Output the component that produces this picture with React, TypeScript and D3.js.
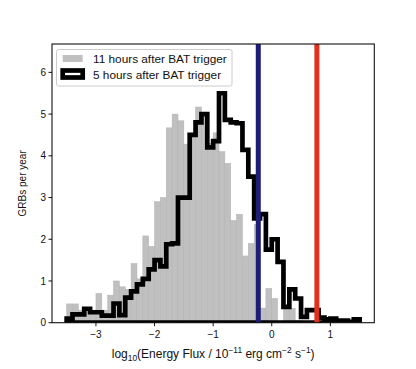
import React from "react";
import * as d3 from "d3";

const binStart = -3.5;
const binWidth = 0.1;

// GRBs per year, 11 hours after BAT trigger (bins of 0.1 from -3.5)
const gray11h = [
  0.45, 0.45, 0.3, 0.25, 0.3, 0.7, 0.3, 0.66, 1.0, 0.86,
  0.8, 1.42, 1.05, 2.08, 1.83, 2.9, 3.0, 4.67, 5.0, 4.84,
  4.28, 4.5, 5.17, 5.03, 4.3, 4.55, 4.1, 3.82, 2.45, 2.6,
  1.6, 1.9, 2.35, 0.35, 0.82, 0.58, 0, 0.34, 0.34, 0.05,
  0, 0, 0, 0, 0, 0, 0, 0, 0, 0,
];

// GRBs per year, 5 hours after BAT trigger
const black5h = [
  0.1, 0.2, 0.2, 0.33, 0.25, 0.25, 0.17, 0.17, 0.46, 0.18,
  0.6, 0.75, 0.92, 1.05, 1.28, 1.5, 1.35, 1.88, 1.9, 3.0,
  3.0, 4.5, 4.8, 5.0, 4.2, 4.35, 5.5, 4.86, 4.8, 4.78,
  4.14, 3.5, 2.5, 2.6, 1.75, 2.0, 1.46, 0.38, 0.8, 0.58,
  0.14, 0.3, 0.3, 0.12, 0.08, 0.1, 0.05, 0.05, 0.02, 0.08,
];

const blueLine = -0.23;
const redLine = 0.77;

const xTicks = [-3, -2, -1, 0, 1];
const yTicks = [0, 1, 2, 3, 4, 5, 6];
const legendLabels = ["11 hours after BAT trigger", "5 hours after BAT trigger"];

const W = 416;
const H = 369;
const L = 52, R = 374.3, T = 44, B = 322.7;
const FONT = "'Liberation Sans', Arial, Helvetica, sans-serif";

export default function App() {
  const x = d3.scaleLinear().domain([-3.75, 1.75]).range([L, R]);
  const y = d3.scaleLinear().domain([0, 6.68]).range([B, T]);
  const fmt = (v: number) => (v < 0 ? "\u2212" + Math.abs(v) : String(v));

  const n = black5h.length;
  const pts: [number, number][] = [];
  pts.push([x(binStart), y(0)]);
  black5h.forEach((v, i) => {
    const x0 = binStart + i * binWidth;
    pts.push([x(x0), y(v)]);
    pts.push([x(x0 + binWidth), y(v)]);
  });
  pts.push([x(binStart + n * binWidth), y(0)]);
  const stepPath = d3.line()(pts) + "Z";

  return (
    <svg
      width={W}
      height={H}
      style={{ position: "absolute", left: 0, top: 0, background: "#fff" }}
      fontFamily={FONT}
    >
      <defs>
        <clipPath id="plot">
          <rect x={L} y={T} width={R - L} height={B - T} />
        </clipPath>
      </defs>
      <g clipPath="url(#plot)">
        {gray11h.map((v, i) =>
          v > 0 ? (
            <rect
              key={i}
              x={x(binStart + i * binWidth)}
              width={x(binStart + (i + 1) * binWidth) - x(binStart + i * binWidth)}
              y={y(v)}
              height={y(0) - y(v)}
              fill="#c0c0c0"
              stroke="#b2b2b2"
              strokeWidth={0.5}
            />
          ) : null
        )}
        <path d={stepPath} fill="none" stroke="#000" strokeWidth={4.7} strokeLinejoin="miter" />
        <line x1={x(blueLine)} x2={x(blueLine)} y1={T} y2={B} stroke="#1d1d78" strokeWidth={5} />
        <line x1={x(redLine)} x2={x(redLine)} y1={T} y2={B} stroke="#e2301f" strokeWidth={5} />
      </g>
      <rect x={L} y={T} width={R - L} height={B - T} fill="none" stroke="#111" strokeWidth={1.1} />
      {xTicks.map((t) => (
        <g key={t}>
          <line x1={x(t)} x2={x(t)} y1={B} y2={B + 3.5} stroke="#111" strokeWidth={1} />
          <text x={x(t)} y={B + 15.5} fontSize={10} textAnchor="middle" fill="#111">
            {fmt(t)}
          </text>
        </g>
      ))}
      {yTicks.map((t) => (
        <g key={t}>
          <line x1={L - 3.5} x2={L} y1={y(t)} y2={y(t)} stroke="#111" strokeWidth={1} />
          <text x={L - 6} y={y(t) + 3.6} fontSize={10} textAnchor="end" fill="#111">
            {t}
          </text>
        </g>
      ))}
      <text
        transform={`translate(${26},${(T + B) / 2}) rotate(-90)`}
        fontSize={10}
        textAnchor="middle"
        fill="#111"
      >
        GRBs per year
      </text>
      <text x={(L + R) / 2} y={357.5} fontSize={12} textAnchor="middle" fill="#111">
        log
        <tspan fontSize={8.4} dy={3}>10</tspan>
        <tspan dy={-3}>(Energy Flux / 10</tspan>
        <tspan fontSize={8.4} dy={-4.8}>{"\u221211"}</tspan>
        <tspan dy={4.8}> erg cm</tspan>
        <tspan fontSize={8.4} dy={-4.8}>{"\u22122"}</tspan>
        <tspan dy={4.8}> s</tspan>
        <tspan fontSize={8.4} dy={-4.8}>{"\u22121"}</tspan>
        <tspan dy={4.8}>)</tspan>
      </text>
      <g>
        <rect x={56.5} y={49.5} width={175.5} height={36.5} rx={2} fill="#fff" fillOpacity={0.8} stroke="#cccccc" strokeWidth={1} />
        <rect x={62.7} y={55} width={20} height={7} fill="#c0c0c0" />
        <text x={93} y={63} fontSize={11.8} fill="#111">{legendLabels[0]}</text>
        <rect x={62.7} y={70.5} width={20} height={7} fill="#fff" stroke="#000" strokeWidth={4.7} />
        <text x={93} y={78.5} fontSize={11.8} fill="#111">{legendLabels[1]}</text>
      </g>
    </svg>
  );
}
